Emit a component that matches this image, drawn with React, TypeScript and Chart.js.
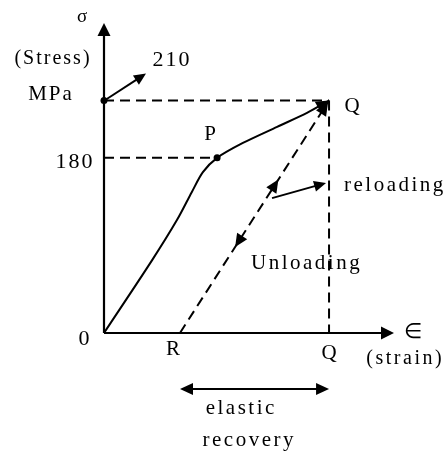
import { useEffect, useRef } from "react";
import { Chart, registerables } from "chart.js";

Chart.register(...registerables);

// Schematic stress–strain diagram (axis units are schematic, 0..100)
const loadStrain = [0, 16.6, 25.2, 30.3, 34.1, 39.0, 47.9, 59.7, 70.0, 77.6];
const loadStress = [0, 23.5, 36.5, 45.5, 51.9, 56.5, 61.3, 66.5, 71.0, 75.0];

const pointLabels = ["P", "Q", "R"];
const pointStrain = [39.0, 77.6, 26.2];
const pointStress = [56.5, 75.0, 0];

const stressTickLabels = ["0", "180", "210"];
const stressTickValues = [0, 56.5, 75.0];

const axisMax = 100;
const FONT = "'Liberation Serif', serif";
const DASH = [10, 6];

function arrowHead(ctx: CanvasRenderingContext2D, x: number, y: number, ang: number, len = 12, half = 5.5) {
  ctx.save();
  ctx.translate(x, y);
  ctx.rotate(ang);
  ctx.beginPath();
  ctx.moveTo(0, 0);
  ctx.lineTo(-len, -half);
  ctx.lineTo(-len, half);
  ctx.closePath();
  ctx.fillStyle = "#000";
  ctx.fill();
  ctx.restore();
}

function arrow(ctx: CanvasRenderingContext2D, x1: number, y1: number, x2: number, y2: number, lw = 2) {
  ctx.save();
  ctx.strokeStyle = "#000";
  ctx.lineWidth = lw;
  ctx.setLineDash([]);
  const ang = Math.atan2(y2 - y1, x2 - x1);
  ctx.beginPath();
  ctx.moveTo(x1, y1);
  ctx.lineTo(x2 - Math.cos(ang) * 8, y2 - Math.sin(ang) * 8);
  ctx.stroke();
  ctx.restore();
  arrowHead(ctx, x2, y2, ang);
}

function text(ctx: CanvasRenderingContext2D, s: string, x: number, y: number, size = 21, align: CanvasTextAlign = "center", spacing = 2) {
  ctx.save();
  ctx.fillStyle = "#000";
  ctx.font = `${size}px ${FONT}`;
  (ctx as any).letterSpacing = `${spacing}px`;
  ctx.textAlign = align;
  ctx.textBaseline = "middle";
  const dx = align === "center" ? spacing / 2 : 0;
  ctx.fillText(s, x + dx, y);
  ctx.restore();
}

const diagramPlugin = {
  id: "diagram",
  afterDatasetsDraw(chart: any) {
    const ctx: CanvasRenderingContext2D = chart.ctx;
    const xs = chart.scales.x;
    const ys = chart.scales.y;
    const px = (v: number) => xs.getPixelForValue(v);
    const py = (v: number) => ys.getPixelForValue(v);
    const x0 = px(0), y0 = py(0);
    const P = { x: px(pointStrain[0]), y: py(pointStress[0]) };
    const Q = { x: px(pointStrain[1]), y: py(pointStress[1]) };
    const R = { x: px(pointStrain[2]), y: py(pointStress[2]) };

    // axes
    ctx.save();
    ctx.strokeStyle = "#000";
    ctx.lineWidth = 2.2;
    ctx.beginPath();
    ctx.moveTo(x0, y0);
    ctx.lineTo(x0, py(axisMax) + 8);
    ctx.moveTo(x0, y0);
    ctx.lineTo(px(axisMax) - 8, y0);
    ctx.stroke();
    ctx.restore();
    arrowHead(ctx, x0, py(axisMax), -Math.PI / 2, 13, 6.5);
    arrowHead(ctx, px(axisMax), y0, 0, 13, 6.5);

    // arrowhead at end of loading curve (Q)
    const n = loadStrain.length;
    const lx = px(loadStrain[n - 2]), ly = py(loadStress[n - 2]);
    arrowHead(ctx, Q.x, Q.y, Math.atan2(Q.y - ly, Q.x - lx), 13, 6);
    // arrowheads along unloading / reloading line
    const angUp = Math.atan2(Q.y - R.y, Q.x - R.x);
    arrowHead(ctx, Q.x - 1, Q.y + 2, angUp, 13, 6);
    const tUp = 0.66, tDown = 0.37;
    arrowHead(ctx, R.x + (Q.x - R.x) * tUp, R.y + (Q.y - R.y) * tUp, angUp, 13, 6);
    arrowHead(ctx, R.x + (Q.x - R.x) * tDown, R.y + (Q.y - R.y) * tDown, angUp + Math.PI, 13, 6);

    // callout arrow for 210
    arrow(ctx, x0 + 2, Q.y - 1, x0 + 42, Q.y - 27);
    // reloading pointer
    arrow(ctx, Q.x - 57, py(43.5), Q.x - 3, py(48.4));
    // elastic recovery double arrow
    const ye = y0 + 56;
    ctx.save();
    ctx.strokeStyle = "#000";
    ctx.lineWidth = 2;
    ctx.beginPath();
    ctx.moveTo(R.x + 8, ye);
    ctx.lineTo(Q.x - 8, ye);
    ctx.stroke();
    ctx.restore();
    arrowHead(ctx, R.x, ye, Math.PI, 13, 6);
    arrowHead(ctx, Q.x, ye, 0, 13, 6);

    // labels
    text(ctx, "σ", x0 - 22, py(axisMax) - 6, 19, "center", 0);
    text(ctx, "(Stress)", 52, 59, 20, "center", 2);
    text(ctx, "MPa", 50, 94, 21, "center", 2);
    text(ctx, stressTickLabels[2], x0 + 67, 60, 22, "center", 2);
    text(ctx, stressTickLabels[1], x0 - 30, py(stressTickValues[1]) + 4, 22, "center", 2);
    text(ctx, stressTickLabels[0], x0 - 20, y0 + 6, 22, "center", 0);
    text(ctx, pointLabels[0], P.x - 7, P.y - 23, 21, "center", 0);
    text(ctx, pointLabels[1], Q.x + 23, Q.y + 6, 21, "center", 0);
    text(ctx, "reloading", Q.x + 15, py(47.5), 21, "left", 2.5);
    text(ctx, "Unloading", R.x + 71, py(22.5), 21, "left", 2.5);
    text(ctx, pointLabels[2], R.x - 7, y0 + 16, 21, "center", 0);
    text(ctx, pointLabels[1], Q.x, y0 + 20, 21, "center", 0);
    text(ctx, "∈", px(axisMax) + 19, y0 - 1, 21, "center", 0);
    text(ctx, "(strain)", 404, y0 + 26, 20, "center", 2.5);
    text(ctx, "elastic", 240, y0 + 75, 21, "center", 2.5);
    text(ctx, "recovery", 248, y0 + 107, 21, "center", 2.5);
  },
};

export default function App() {
  const ref = useRef<HTMLCanvasElement | null>(null);
  useEffect(() => {
    if (!ref.current) return;
    const P = { x: pointStrain[0], y: pointStress[0] };
    const Q = { x: pointStrain[1], y: pointStress[1] };
    const R = { x: pointStrain[2], y: pointStress[2] };
    const dashed = (data: { x: number; y: number }[]) => ({
      data,
      showLine: true,
      borderColor: "#000",
      borderWidth: 2,
      borderDash: DASH,
      pointRadius: 0,
      clip: false as const,
    });
    const chart = new Chart(ref.current, {
      type: "scatter",
      data: {
        datasets: [
          {
            data: loadStrain.map((x, i) => ({ x, y: loadStress[i] })),
            showLine: true,
            borderColor: "#000",
            borderWidth: 2,
            pointRadius: 0,
            tension: 0.3,
            clip: false,
          } as any,
          dashed([R, Q]),
          dashed([Q, { x: Q.x, y: 0 }]),
          dashed([{ x: 0, y: Q.y }, Q]),
          dashed([{ x: 0, y: P.y }, P]),
          {
            data: [P, { x: 0, y: Q.y }],
            pointRadius: 3.5,
            pointBackgroundColor: "#000",
            pointBorderWidth: 0,
            showLine: false,
            clip: false,
          } as any,
        ],
      },
      options: {
        animation: false,
        responsive: true,
        maintainAspectRatio: false,
        layout: { padding: { left: 104, right: 53, top: 23, bottom: 120 } },
        plugins: { legend: { display: false }, tooltip: { enabled: false } },
        scales: {
          x: { type: "linear", min: 0, max: axisMax, display: false },
          y: { type: "linear", min: 0, max: axisMax, display: false },
        },
      },
      plugins: [diagramPlugin],
    });
    return () => chart.destroy();
  }, []);
  return (
    <div style={{ position: "fixed", left: 0, top: 0, width: 447, height: 453, background: "#fff" }}>
      <canvas ref={ref} />
    </div>
  );
}
